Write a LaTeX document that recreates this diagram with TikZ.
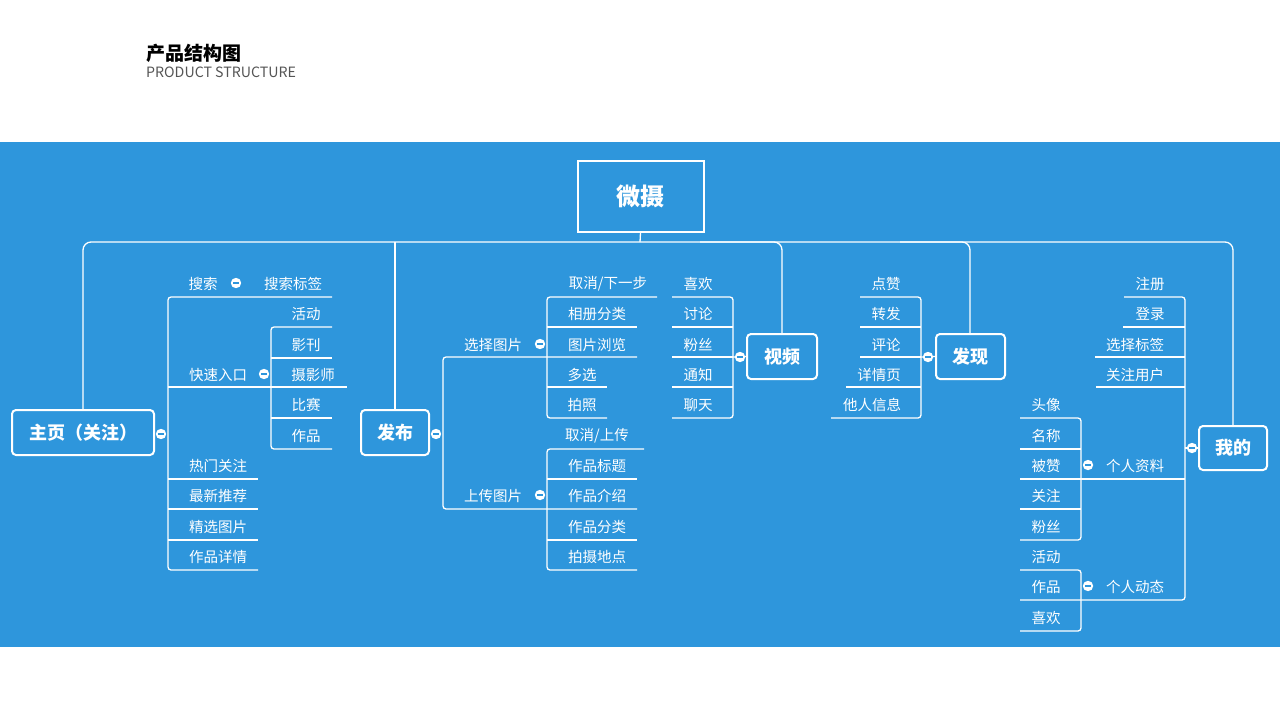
\documentclass[tikz,border=0pt]{standalone}
\usepackage{fontspec}
\setmainfont{Noto Sans CJK SC}
\definecolor{bg}{HTML}{2E96DC}
\definecolor{tgray}{HTML}{555555}
\begin{document}
\begin{tikzpicture}[x=1pt,y=-1pt,
  ln/.style={draw=white,line width=1.3pt,rounded corners=3pt},
  box/.style={draw=white,line width=2pt,rounded corners=4pt,fill=bg,text=white,font=\fontsize{18}{20}\selectfont\bfseries,inner sep=0pt},
  lbl/.style={text=white,font=\fontsize{14.5}{16}\selectfont,inner sep=0pt}]
\newcommand\mc[2]{\fill[white] (#1,#2) circle (5.2); \draw[bg,line width=1.4pt] (#1-2.6,#2)--(#1+2.6,#2);}
\newcommand\lb[4]{\node[lbl] (#1) at (#2,#3+1) {#4};}
\useasboundingbox (0,0) rectangle (1280,720);
\fill[white] (0,0) rectangle (1280,720);
\fill[bg] (0,142) rectangle (1280,647);
\node[anchor=west,inner sep=0pt,font=\fontsize{19}{20}\selectfont\bfseries] (t1) at (146,53) {产品结构图};
\node[anchor=west,inner sep=0pt,font=\fontsize{14.2}{15}\selectfont,text=tgray] (t2) at (146,72) {PRODUCT STRUCTURE};
% root
\node[box,minimum width=126,minimum height=71,rounded corners=0pt,font=\fontsize{24}{26}\selectfont\bfseries] (root) at (640.5,196) {微摄};
\draw[ln] (root.south) -- (640,242);
\draw[ln,rounded corners=8pt] (83,410) -- (83,242) -- (1233,242) -- (1233,426);
\draw[ln] (395,242)--(395,410);
\draw[ln,rounded corners=8pt] (700,242) -- (782,242) -- (782,334);
\draw[ln,rounded corners=8pt] (900,242) -- (970,242) -- (970,334);
\node[box,minimum width=142,minimum height=45] (home) at (83,432.5) {主页（关注）};
\node[box,minimum width=68,minimum height=45] (pub) at (395,432.5) {发布};
\node[box,minimum width=70,minimum height=45] (vid) at (782,356.5) {视频};
\node[box,minimum width=69,minimum height=45] (disc) at (970.5,356.5) {发现};
\node[box,minimum width=68,minimum height=44] (me) at (1233,448) {我的};
% ---- 主页
\draw[ln] (332,297) -- (168,297) -- (168,570) -- (258,570);
\draw[ln] (168,387)--(347,387);
\foreach \y in {479,509,540} \draw[ln] (168,\y)--(258,\y);
\mc{161}{434}
\lb{a1}{203}{283}{搜索}\mc{236}{283}\lb{a2}{293}{283}{搜索标签}
\lb{a3}{218}{374}{快速入口}\mc{264}{374}
\draw[ln] (332,327) -- (271,327) -- (271,449) -- (332,449);
\foreach \y in {358,418} \draw[ln] (271,\y)--(332,\y);
\lb{b1}{306}{313}{活动}\lb{b2}{306}{344}{影刊}\lb{b3}{313}{374}{摄影师}\lb{b4}{306}{404}{比赛}\lb{b5}{306}{435}{作品}
\lb{c1}{218}{465}{热门关注}\lb{c2}{218}{495}{最新推荐}\lb{c3}{218}{526}{精选图片}\lb{c4}{218}{556}{作品详情}
% ---- 发布
\mc{436}{434}
\draw[ln] (637,357) -- (443,357) -- (443,509) -- (637,509);
\lb{d1}{493}{344}{选择图片}\mc{540}{344}
\lb{d2}{493}{495}{上传图片}\mc{540}{495}
\draw[ln] (657,297) -- (547,297) -- (547,418) -- (607,418);
\draw[ln] (547,327)--(637,327); \draw[ln] (547,387)--(607,387);
\lb{e1}{608}{283}{取消/下一步}\lb{e2}{597}{313}{相册分类}\lb{e3}{597}{344}{图片浏览}\lb{e4}{582}{374}{多选}\lb{e5}{582}{404}{拍照}
\draw[ln] (644,449) -- (547,449) -- (547,570) -- (637,570);
\foreach \y in {479,540} \draw[ln] (547,\y)--(637,\y);
\lb{f1}{597}{435}{取消/上传}\lb{f2}{597}{465}{作品标题}\lb{f3}{597}{495}{作品介绍}\lb{f4}{597}{526}{作品分类}\lb{f5}{597}{556}{拍摄地点}
% ---- 视频
\draw[ln] (672,297) -- (733,297) -- (733,418) -- (672,418);
\foreach \y in {327,357,387} \draw[ln] (672,\y)--(733,\y);
\draw[ln] (733,357)--(vid.west);
\mc{740}{357}
\lb{g1}{698}{283}{喜欢}\lb{g2}{698}{313}{讨论}\lb{g3}{698}{344}{粉丝}\lb{g4}{698}{374}{通知}\lb{g5}{698}{404}{聊天}
% ---- 发现
\draw[ln] (860,297) -- (921,297) -- (921,418) -- (831,418);
\draw[ln] (860,327)--(921,327); \draw[ln] (860,357)--(921,357); \draw[ln] (846,387)--(921,387);
\draw[ln] (921,357)--(disc.west);
\mc{928}{357}
\lb{h1}{886}{283}{点赞}\lb{h2}{886}{313}{转发}\lb{h3}{886}{344}{评论}\lb{h4}{879}{374}{详情页}\lb{h5}{872}{404}{他人信息}
% ---- 我的
\draw[ln] (1124,297) -- (1185,297) -- (1185,600) -- (1020,600);
\draw[ln] (1123,327)--(1185,327); \draw[ln] (1095,357)--(1185,357); \draw[ln] (1096,387)--(1185,387);
\draw[ln] (1020,479)--(1185,479);
\draw[ln] (1185,448)--(me.west);
\mc{1192}{448}
\lb{i1}{1150}{283}{注册}\lb{i2}{1150}{313}{登录}\lb{i3}{1135}{344}{选择标签}\lb{i4}{1135}{374}{关注用户}
\lb{i5}{1135}{465}{个人资料}\mc{1088}{465}
\lb{i6}{1135}{586}{个人动态}\mc{1088}{586}
\draw[ln] (1020,418) -- (1081,418) -- (1081,540) -- (1020,540);
\foreach \y in {449,509} \draw[ln] (1020,\y)--(1081,\y);
\lb{j1}{1046}{404}{头像}\lb{j2}{1046}{435}{名称}\lb{j3}{1046}{465}{被赞}\lb{j4}{1046}{495}{关注}\lb{j5}{1046}{526}{粉丝}
\draw[ln] (1020,570) -- (1081,570) -- (1081,631) -- (1020,631);
\lb{k1}{1046}{556}{活动}\lb{k2}{1046}{586}{作品}\lb{k3}{1046}{617}{喜欢}
\end{tikzpicture}
\end{document}
